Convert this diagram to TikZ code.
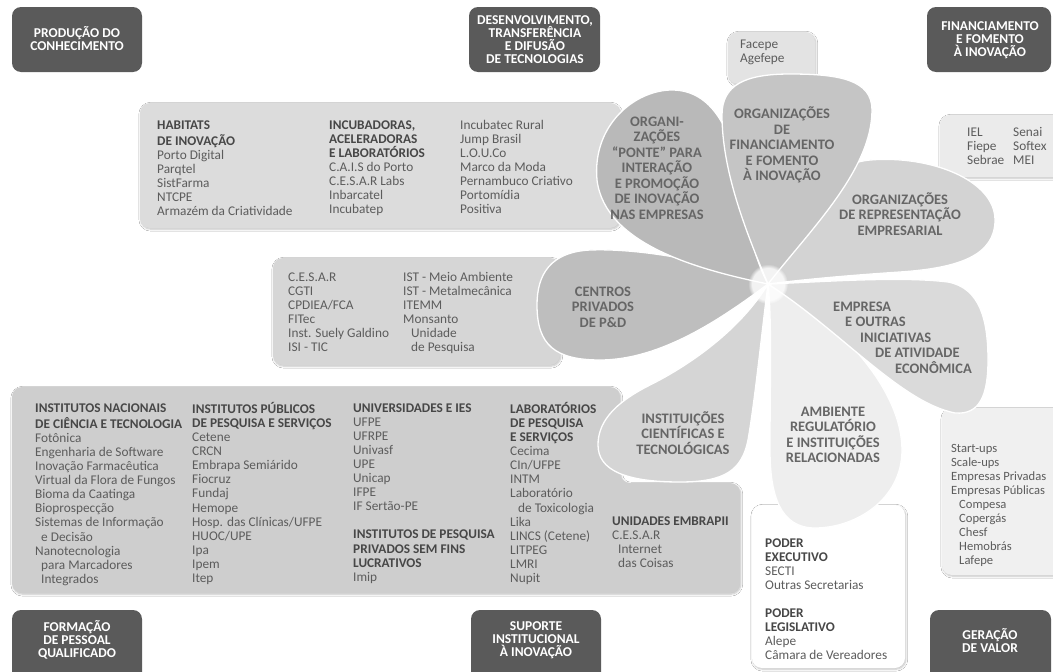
\documentclass[tikz,border=0pt]{standalone}
\usepackage{fontspec}
\setmainfont{Carlito}
\usetikzlibrary{shadows.blur,fadings}

\definecolor{labelgray}{HTML}{5A5A5A}
\definecolor{textgray}{HTML}{5C5C5C}
\definecolor{headgray}{HTML}{474747}
\definecolor{petaltext}{HTML}{666666}
\definecolor{habitatgray}{HTML}{DCDCDC}
\definecolor{centrosgray}{HTML}{D6D6D6}
\definecolor{ictboxgray}{HTML}{CECECE}
\definecolor{facepegray}{HTML}{E3E3E3}
\definecolor{ielgray}{HTML}{EBEBEB}
\definecolor{startgray}{HTML}{F0F0F0}
\definecolor{pontegray}{HTML}{B9B9B9}
\definecolor{fingray}{HTML}{C5C5C5}
\definecolor{repgray}{HTML}{D3D3D3}
\definecolor{empgray}{HTML}{DADADA}
\definecolor{ambgray}{HTML}{EEEEEE}
\definecolor{ictgray}{HTML}{D5D5D5}
\definecolor{cengray}{HTML}{BEBEBE}

\newcommand{\listfont}{\fontsize{13.3}{14.1}\selectfont}
\newcommand{\petalfont}{\fontsize{14.5}{15.5}\selectfont\bfseries}
\newcommand{\labelfont}{\fontsize{13.5}{13}\selectfont\bfseries}
\newcommand{\hd}[1]{\textbf{\color{headgray}#1}}

\tikzset{
  label box/.style={fill=labelgray, rounded corners=9pt},
  label text/.style={text=white, font=\labelfont, align=center, inner sep=0pt},
  list box/.style={rounded corners=10pt, blur shadow={shadow blur steps=6, shadow xshift=0.8pt, shadow yshift=-1.2pt, shadow opacity=25}},
  list text/.style={text=textgray, font=\listfont, align=left, anchor=north west, inner sep=0pt},
  petal/.style={draw=white, line width=1.3pt},
  petal text/.style={text=petaltext, font=\petalfont, align=center, inner sep=0pt}
}

\begin{document}
\begin{tikzpicture}[x=1pt,y=-1pt]
    \useasboundingbox (0,0) rectangle (1053,672);
    \fill [white] (0,0) rectangle (1053,672);

    \fill [label box] (12,7) rectangle (142,72);
    \fill [label box] (469,7) rectangle (600,72);
    \fill [label box] (927,7) rectangle (1051,72);
    \fill [label box] (12,610) rectangle (142,685);
    \fill [label box] (471,610) rectangle (601,685);
    \fill [label box] (930,610) rectangle (1051,685);

    \node [label text] (producao) at (77,39) {PRODUÇÃO DO\\CONHECIMENTO};
    \node [label text] (desenvolvimento) at (535,39.5) {DESENVOLVIMENTO,\\TRANSFERÊNCIA\\E DIFUSÃO\\DE TECNOLOGIAS};
    \node [label text] (financiamento) at (990,40) {FINANCIAMENTO\\E FOMENTO\\À INOVAÇÃO};
    \node [label text] (formacao) at (77,640) {FORMAÇÃO\\DE PESSOAL\\QUALIFICADO};
    \node [label text] (suporte) at (536,640) {SUPORTE\\INSTITUCIONAL\\À INOVAÇÃO};
    \node [label text] (geracao) at (990,641) {GERAÇÃO\\DE VALOR};

    \fill [list box, fill=habitatgray] (140,103) rectangle (620,228);
    \fill [list box, fill=centrosgray] (273,258) rectangle (560,365);
    \fill [list box, fill=ictboxgray] (12,387) -- (620,387) -- (620,483) -- (740,483) -- (740,593) -- (12,593) -- cycle;
    \fill [list box, fill=facepegray] (728,32) rectangle (815,84);
    \fill [list box, fill=ielgray] (940,115) rectangle (1065,177);
    \fill [list box, fill=startgray] (942,408) rectangle (1065,575);
    \fill [list box, fill=white] (752,505) rectangle (905,668);

    \coordinate (ctr) at (768,284);
    \filldraw [petal, fill=ambgray] (ctr) .. controls (840,320) and (902,390) .. (902,450) .. controls (902,500) and (855,528) .. (815,528) .. controls (780,528) and (770,495) .. (770,450) .. controls (770,380) and (772,320) .. (ctr) -- cycle;
    \filldraw [petal, fill=empgray] (ctr) .. controls (820,282) and (900,276) .. (948,282) .. controls (980,288) and (988,320) .. (988,360) .. controls (988,395) and (980,415) .. (955,413) .. controls (900,402) and (840,330) .. (ctr) -- cycle;
    \filldraw [petal, fill=repgray] (ctr) .. controls (790,230) and (815,165) .. (870,160) .. controls (930,155) and (995,180) .. (995,220) .. controls (995,255) and (960,268) .. (900,272) .. controls (840,276) and (800,280) .. (ctr) -- cycle;
    \filldraw [petal, fill=cengray] (ctr) .. controls (720,262) and (640,248) .. (590,250) .. controls (550,252) and (537,275) .. (537,305) .. controls (537,345) and (555,360) .. (600,360) .. controls (660,360) and (720,320) .. (ctr) -- cycle;
    \filldraw [petal, fill=pontegray] (ctr) .. controls (700,270) and (605,245) .. (597,180) .. controls (592,125) and (635,90) .. (672,90) .. controls (712,90) and (732,130) .. (740,180) .. controls (747,225) and (755,260) .. (ctr) -- cycle;
    \filldraw [petal, fill=ictgray] (ctr) .. controls (740,330) and (690,365) .. (650,385) .. controls (610,405) and (598,425) .. (598,445) .. controls (598,470) and (625,482) .. (680,482) .. controls (725,482) and (742,470) .. (748,440) .. controls (755,400) and (762,330) .. (ctr) -- cycle;
    \filldraw [petal, fill=fingray] (ctr) .. controls (745,230) and (722,170) .. (722,115) .. controls (722,85) and (745,74) .. (790,74) .. controls (840,74) and (872,80) .. (872,110) .. controls (872,170) and (810,230) .. (ctr) -- cycle;
    \fill [white, opacity=0.8, path fading=circle with fuzzy edge 20 percent] (ctr) circle (20pt);

    \node [petal text] (ponte) at (657,168) {ORGANI-\\ZAÇÕES\\“PONTE” PARA\\INTERAÇÃO\\E PROMOÇÃO\\DE INOVAÇÃO\\NAS EMPRESAS};
    \node [petal text] (fomento) at (782,145) {ORGANIZAÇÕES\\DE\\FINANCIAMENTO\\E FOMENTO\\À INOVAÇÃO};
    \node [petal text] (representacao) at (900,214) {ORGANIZAÇÕES\\DE REPRESENTAÇÃO\\EMPRESARIAL};
    \node [petal text, align=left, anchor=north west] (empresa) at (833,300) {\strut EMPRESA\\\hspace*{12pt}E OUTRAS\\\hspace*{27pt}INICIATIVAS\\\hspace*{42pt}DE ATIVIDADE\\\hspace*{62pt}ECONÔMICA};
    \node [petal text] (ambiente) at (833,435) {AMBIENTE\\REGULATÓRIO\\E INSTITUIÇÕES\\RELACIONADAS};
    \node [petal text] (ict) at (683,433) {INSTITUIÇÕES\\CIENTÍFICAS E\\TECNOLÓGICAS};
    \node [petal text] (centros) at (603,307) {CENTROS\\PRIVADOS\\DE P\&D};

    \node [list text] (habitats) at (157,119) {\strut\hd{HABITATS}\\\hd{DE INOVAÇÃO}\\Porto Digital\\Parqtel\\SistFarma\\NTCPE\\Armazém da Criatividade};
    \node [list text] (incubadoras) at (329,119) {\strut\hd{INCUBADORAS,}\\\hd{ACELERADORAS}\\\hd{E LABORATÓRIOS}\\C.A.I.S do Porto\\C.E.S.A.R Labs\\Inbarcatel\\Incubatep};
    \node [list text] (incubatec) at (460,119) {\strut Incubatec Rural\\Jump Brasil\\L.O.U.Co\\Marco da Moda\\Pernambuco Criativo\\Portomídia\\Positiva};

    \node [list text] (cesar) at (288,271) {\strut C.E.S.A.R\\CGTI\\CPDIEA/FCA\\FITec\\Inst. Suely Galdino\\ISI - TIC};
    \node [list text] (ist) at (403,271) {\strut IST - Meio Ambiente\\IST - Metalmecânica\\ITEMM\\Monsanto\\\hspace*{8pt}Unidade\\\hspace*{8pt}de Pesquisa};

    \node [list text] (inct) at (35,402) {\strut\hd{INSTITUTOS NACIONAIS}\\\hd{DE CIÊNCIA E TECNOLOGIA}\\Fotônica\\Engenharia de Software\\Inovação Farmacêutica\\Virtual da Flora de Fungos\\Bioma da Caatinga\\Bioprospecção\\Sistemas de Informação\\\hspace*{6pt}e Decisão\\Nanotecnologia\\\hspace*{6pt}para Marcadores\\\hspace*{6pt}Integrados};
    \node [list text] (publicos) at (192,402) {\strut\hd{INSTITUTOS PÚBLICOS}\\\hd{DE PESQUISA E SERVIÇOS}\\Cetene\\CRCN\\Embrapa Semiárido\\Fiocruz\\Fundaj\\Hemope\\Hosp. das Clínicas/UFPE\\HUOC/UPE\\Ipa\\Ipem\\Itep};
    \node [list text] (universidades) at (353,402) {\strut\hd{UNIVERSIDADES E IES}\\UFPE\\UFRPE\\Univasf\\UPE\\Unicap\\IFPE\\IF Sertão-PE\\[14.1pt]\hd{INSTITUTOS DE PESQUISA}\\\hd{PRIVADOS SEM FINS}\\\hd{LUCRATIVOS}\\Imip};
    \node [list text] (laboratorios) at (510,402) {\strut\hd{LABORATÓRIOS}\\\hd{DE PESQUISA}\\\hd{E SERVIÇOS}\\Cecima\\CIn/UFPE\\INTM\\Laboratório\\\hspace*{8pt}de Toxicologia\\Lika\\LINCS (Cetene)\\LITPEG\\LMRI\\Nupit};
    \node [list text] (embrapii) at (612,515) {\strut\hd{UNIDADES EMBRAPII}\\C.E.S.A.R\\\hspace*{6pt}Internet\\\hspace*{6pt}das Coisas};

    \node [list text] (facepe) at (740,38) {\strut Facepe\\Agefepe};
    \node [list text] (iel) at (967,126) {\strut IEL\\Fiepe\\Sebrae};
    \node [list text] (senai) at (1013,126) {\strut Senai\\Softex\\MEI};
    \node [list text, font=\fontsize{12.6}{14.1}\selectfont] (startups) at (951,442) {\strut Start-ups\\Scale-ups\\Empresas Privadas\\Empresas Públicas\\\hspace*{8pt}Compesa\\\hspace*{8pt}Copergás\\\hspace*{8pt}Chesf\\\hspace*{8pt}Hemobrás\\\hspace*{8pt}Lafepe};
    \node [list text] (poder) at (765,537) {\strut\hd{PODER}\\\hd{EXECUTIVO}\\SECTI\\Outras Secretarias\\[14.1pt]\hd{PODER}\\\hd{LEGISLATIVO}\\Alepe\\Câmara de Vereadores};
\end{tikzpicture}
\end{document}
